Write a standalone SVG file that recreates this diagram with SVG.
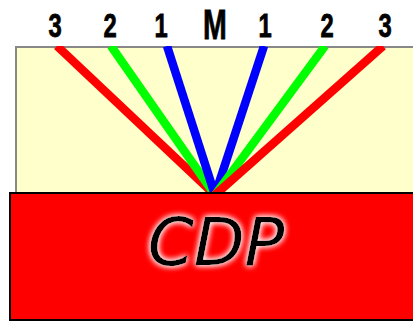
<svg xmlns="http://www.w3.org/2000/svg" width="413" height="321" viewBox="0 0 413 321">
<style>
.lbl{font-family:"Liberation Sans",Arial,sans-serif;font-weight:bold;fill:#000;stroke:#000;stroke-width:0.8;text-anchor:middle}
.ray{stroke-width:8.5;fill:none;stroke-linecap:butt}
.cdp{font-family:"DejaVu Sans",sans-serif;font-style:italic;font-size:66px;fill:#000;text-anchor:middle}
</style>
<defs>
<clipPath id="clip"><rect x="16" y="46" width="400" height="147"/></clipPath>
<filter id="glow" x="-20%" y="-30%" width="140%" height="160%">
<feGaussianBlur in="SourceAlpha" stdDeviation="3" result="b"/>
<feFlood flood-color="#fff"/>
<feComposite in2="b" operator="in" result="w"/>
<feMerge><feMergeNode in="w"/><feMergeNode in="w"/><feMergeNode in="SourceGraphic"/></feMerge>
</filter>
</defs>
<g id="panel">
<rect x="16" y="47" width="400" height="146" fill="#ffffcc" stroke="#888" stroke-width="2"/>
</g>
<g id="connectors" clip-path="url(#clip)">
<line class="ray" x1="57" y1="46" x2="215" y2="195" stroke="#ff0000"/>
<line class="ray" x1="111" y1="46" x2="215" y2="195" stroke="#00ff00"/>
<line class="ray" x1="167" y1="46" x2="215" y2="195" stroke="#0000ff"/>
<line class="ray" x1="264" y1="46" x2="215" y2="195" stroke="#0000ff"/>
<line class="ray" x1="325" y1="46" x2="215" y2="195" stroke="#00ff00"/>
<line class="ray" x1="383" y1="46" x2="215" y2="195" stroke="#ff0000"/>
</g>
<g id="labels">
<text class="lbl" font-size="33" transform="translate(55,37) scale(0.72,1)">3</text>
<text class="lbl" font-size="33" transform="translate(110,37) scale(0.72,1)">2</text>
<text class="lbl" font-size="33" transform="translate(161,37) scale(0.72,1)">1</text>
<text class="lbl" font-size="42" transform="translate(215,39) scale(0.68,1)">M</text>
<text class="lbl" font-size="33" transform="translate(265,37) scale(0.72,1)">1</text>
<text class="lbl" font-size="33" transform="translate(327,37) scale(0.72,1)">2</text>
<text class="lbl" font-size="33" transform="translate(385,37) scale(0.72,1)">3</text>
</g>
<g id="cdp">
<rect x="10" y="193" width="410" height="127" fill="#ff0000" stroke="#000" stroke-width="2"/>
<text class="cdp" x="216" y="265" filter="url(#glow)">CDP</text>
</g>
</svg>
